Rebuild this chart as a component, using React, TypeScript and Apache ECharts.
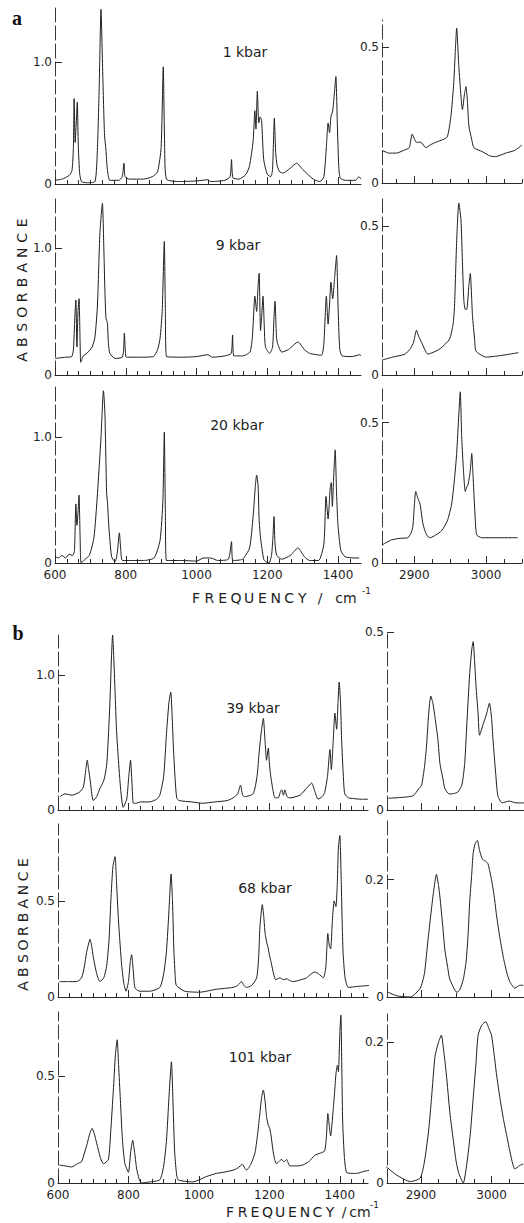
import React, { useEffect, useRef } from "react";
import * as echarts from "echarts";

// ---------- data (frequency cm^-1, absorbance) ----------
const kbar1Low: number[][] = [[600,0.03],[620,0.04],[640,0.07],[648,0.11],[652,0.3],[654,0.7],[657,0.34],[660,0.5],[663,0.67],[666,0.3],[670,0.08],[675,0.02],[690,0.01],[713,0.02],[720,0.3],[725,0.8],[730,1.43],[735,0.9],[740,0.4],[744,0.28],[748,0.12],[755,0.03],[780,0.03],[790,0.06],[795,0.17],[798,0.06],[810,0.04],[850,0.04],[875,0.06],[890,0.1],[900,0.3],[906,0.96],[910,0.3],[915,0.04],[950,0.02],[1000,0.025],[1032,0.035],[1040,0.02],[1080,0.03],[1095,0.06],[1099,0.2],[1103,0.05],[1120,0.04],[1140,0.08],[1150,0.15],[1160,0.35],[1165,0.6],[1168,0.45],[1172,0.76],[1176,0.5],[1180,0.55],[1184,0.52],[1190,0.2],[1200,0.08],[1210,0.06],[1215,0.12],[1220,0.54],[1224,0.25],[1228,0.15],[1235,0.1],[1245,0.09],[1265,0.13],[1283,0.17],[1300,0.12],[1330,0.04],[1349,0.02],[1360,0.06],[1367,0.3],[1372,0.5],[1376,0.42],[1380,0.55],[1385,0.6],[1390,0.75],[1394,0.88],[1398,0.5],[1402,0.15],[1406,0.05],[1420,0.03],[1450,0.03],[1459,0.06],[1465,0.04]];
const kbar1High: number[][] = [[2855,0.12],[2865,0.11],[2875,0.11],[2885,0.12],[2893,0.13],[2897,0.18],[2903,0.15],[2909,0.15],[2916,0.13],[2922,0.14],[2930,0.15],[2940,0.16],[2946,0.17],[2951,0.245],[2955,0.37],[2957,0.48],[2959,0.57],[2962,0.43],[2965,0.32],[2967,0.27],[2970,0.33],[2972,0.355],[2974,0.3],[2976,0.21],[2980,0.16],[2983,0.13],[2995,0.115],[3005,0.1],[3013,0.097],[3027,0.11],[3040,0.12],[3050,0.14]];
const kbar9Low: number[][] = [[600,0.13],[630,0.14],[647,0.144],[652,0.2],[656,0.45],[659,0.59],[662,0.22],[665,0.5],[668,0.6],[671,0.25],[673,0.1],[680,0.15],[690,0.17],[705,0.22],[713,0.3],[720,0.55],[727,1.12],[734,1.35],[738,1.0],[741,0.67],[744,0.45],[748,0.41],[751,0.25],[755,0.17],[770,0.13],[790,0.14],[794,0.2],[796,0.33],[799,0.18],[802,0.14],[840,0.14],[878,0.145],[890,0.2],[897,0.29],[903,0.5],[909,1.05],[912,0.5],[915,0.145],[960,0.14],[1000,0.145],[1032,0.16],[1045,0.14],[1080,0.15],[1098,0.17],[1102,0.315],[1106,0.15],[1130,0.15],[1151,0.18],[1158,0.3],[1165,0.62],[1170,0.5],[1174,0.7],[1177,0.8],[1181,0.35],[1184,0.45],[1188,0.62],[1192,0.35],[1195,0.22],[1207,0.17],[1215,0.22],[1219,0.45],[1222,0.58],[1226,0.3],[1229,0.25],[1241,0.18],[1260,0.2],[1287,0.26],[1305,0.2],[1320,0.17],[1353,0.155],[1360,0.25],[1367,0.62],[1372,0.4],[1376,0.55],[1380,0.73],[1385,0.6],[1390,0.75],[1396,0.94],[1400,0.55],[1405,0.2],[1412,0.15],[1440,0.145],[1462,0.16],[1465,0.15]];
const kbar9High: number[][] = [[2855,0.05],[2870,0.06],[2887,0.07],[2895,0.09],[2899,0.11],[2903,0.15],[2906,0.13],[2910,0.11],[2919,0.07],[2930,0.08],[2937,0.09],[2949,0.12],[2954,0.17],[2956,0.23],[2959,0.45],[2962,0.576],[2965,0.52],[2967,0.38],[2969,0.25],[2971,0.22],[2973,0.22],[2976,0.3],[2978,0.34],[2981,0.2],[2984,0.12],[2986,0.08],[3000,0.06],[3020,0.065],[3033,0.07],[3045,0.075]];
const kbar20Low: number[][] = [[600,0.05],[610,0.04],[620,0.06],[630,0.04],[640,0.07],[650,0.06],[655,0.1],[659,0.47],[662,0.3],[665,0.4],[668,0.54],[671,0.2],[674,0.0],[685,0.03],[697,0.06],[710,0.2],[720,0.55],[730,1.0],[737,1.37],[741,1.2],[744,0.8],[746,0.55],[748,0.5],[752,0.3],[760,0.05],[770,0.01],[776,0.08],[782,0.24],[786,0.1],[791,0.02],[850,0.02],[880,0.04],[897,0.18],[905,0.5],[909,1.04],[912,0.4],[915,0.02],[960,0.02],[1000,0.015],[1020,0.04],[1040,0.04],[1060,0.02],[1090,0.03],[1099,0.17],[1103,0.02],[1130,0.03],[1150,0.12],[1160,0.37],[1166,0.6],[1170,0.7],[1174,0.62],[1177,0.35],[1181,0.2],[1190,0.03],[1196,0.01],[1205,0.0],[1212,0.06],[1216,0.2],[1219,0.37],[1222,0.15],[1227,0.06],[1241,0.03],[1265,0.06],[1287,0.12],[1305,0.05],[1320,0.02],[1345,0.02],[1360,0.15],[1366,0.53],[1372,0.35],[1378,0.6],[1381,0.64],[1384,0.45],[1388,0.7],[1392,0.9],[1396,0.55],[1400,0.3],[1408,0.1],[1420,0.05],[1445,0.04],[1460,0.04]];
const kbar20High: number[][] = [[2855,0.064],[2868,0.082],[2880,0.088],[2891,0.09],[2896,0.11],[2898,0.13],[2902,0.255],[2905,0.23],[2908,0.21],[2912,0.14],[2917,0.1],[2922,0.09],[2930,0.1],[2938,0.115],[2946,0.15],[2952,0.21],[2956,0.3],[2959,0.39],[2962,0.53],[2964,0.61],[2966,0.45],[2968,0.35],[2971,0.255],[2973,0.27],[2975,0.28],[2978,0.33],[2980,0.39],[2982,0.3],[2985,0.15],[2987,0.1],[2994,0.09],[3012,0.09],[3030,0.09],[3044,0.09]];
const kbar39Low: number[][] = [[606,0.1],[620,0.12],[640,0.11],[662,0.135],[672,0.17],[678,0.28],[683,0.37],[687,0.3],[691,0.23],[700,0.07],[710,0.1],[719,0.16],[730,0.22],[738,0.33],[744,0.6],[748,0.84],[752,1.15],[755,1.3],[758,1.15],[762,0.88],[766,0.6],[771,0.39],[778,0.15],[785,0.02],[795,0.08],[801,0.25],[806,0.37],[810,0.2],[814,0.05],[822,0.05],[833,0.06],[860,0.06],[880,0.08],[889,0.11],[900,0.25],[908,0.57],[915,0.8],[920,0.876],[924,0.7],[927,0.5],[932,0.25],[937,0.09],[944,0.07],[980,0.06],[1010,0.05],[1045,0.06],[1080,0.07],[1097,0.09],[1110,0.12],[1118,0.185],[1124,0.11],[1130,0.1],[1154,0.12],[1165,0.25],[1171,0.43],[1178,0.6],[1183,0.68],[1188,0.5],[1192,0.37],[1197,0.46],[1200,0.35],[1203,0.27],[1210,0.15],[1216,0.09],[1225,0.09],[1232,0.14],[1235,0.15],[1240,0.11],[1244,0.15],[1250,0.1],[1258,0.09],[1287,0.11],[1305,0.16],[1320,0.2],[1330,0.13],[1338,0.08],[1350,0.1],[1357,0.13],[1365,0.25],[1372,0.45],[1376,0.3],[1381,0.5],[1386,0.72],[1391,0.6],[1395,0.8],[1398,0.95],[1402,0.8],[1405,0.53],[1410,0.25],[1414,0.12],[1425,0.09],[1438,0.085],[1460,0.08],[1480,0.08]];
const kbar39High: number[][] = [[2854,0.033],[2870,0.035],[2889,0.04],[2897,0.06],[2901,0.07],[2905,0.12],[2908,0.18],[2911,0.27],[2914,0.32],[2917,0.3],[2920,0.26],[2924,0.2],[2927,0.13],[2931,0.09],[2934,0.06],[2940,0.045],[2946,0.046],[2952,0.05],[2958,0.07],[2962,0.13],[2965,0.24],[2969,0.38],[2972,0.45],[2974,0.473],[2976,0.42],[2978,0.35],[2981,0.27],[2983,0.21],[2988,0.24],[2993,0.27],[2997,0.3],[3000,0.26],[3002,0.2],[3006,0.1],[3009,0.04],[3015,0.02],[3025,0.025],[3035,0.02],[3046,0.02]];
const kbar68Low: number[][] = [[604,0.08],[630,0.08],[653,0.08],[667,0.1],[675,0.16],[681,0.23],[691,0.3],[696,0.26],[700,0.21],[710,0.12],[719,0.08],[730,0.1],[738,0.16],[745,0.3],[750,0.5],[756,0.68],[762,0.73],[766,0.6],[771,0.42],[776,0.28],[781,0.16],[787,0.07],[793,0.03],[800,0.08],[805,0.18],[809,0.22],[813,0.15],[818,0.05],[825,0.035],[833,0.03],[860,0.03],[889,0.05],[900,0.12],[908,0.24],[915,0.45],[921,0.64],[925,0.5],[929,0.24],[933,0.1],[936,0.06],[960,0.03],[1002,0.025],[1049,0.04],[1097,0.05],[1110,0.06],[1121,0.08],[1128,0.06],[1135,0.05],[1150,0.06],[1164,0.1],[1170,0.22],[1173,0.36],[1180,0.48],[1184,0.42],[1188,0.33],[1193,0.28],[1196,0.26],[1200,0.22],[1205,0.18],[1212,0.12],[1218,0.09],[1224,0.095],[1230,0.1],[1240,0.09],[1249,0.095],[1258,0.085],[1268,0.08],[1290,0.09],[1306,0.1],[1318,0.12],[1329,0.13],[1340,0.12],[1353,0.1],[1360,0.15],[1366,0.33],[1370,0.27],[1374,0.25],[1379,0.4],[1384,0.5],[1389,0.47],[1393,0.6],[1396,0.78],[1400,0.84],[1404,0.6],[1409,0.24],[1415,0.1],[1424,0.05],[1450,0.055],[1485,0.06]];
const kbar68High: number[][] = [[2852,0.009],[2866,0.002],[2885,0.0],[2899,0.015],[2905,0.04],[2910,0.097],[2914,0.14],[2918,0.18],[2922,0.209],[2925,0.19],[2927,0.17],[2931,0.12],[2934,0.08],[2938,0.05],[2941,0.03],[2951,0.008],[2955,0.012],[2960,0.03],[2964,0.06],[2967,0.11],[2969,0.16],[2972,0.21],[2974,0.245],[2977,0.262],[2980,0.267],[2983,0.25],[2987,0.235],[2991,0.232],[2995,0.227],[3000,0.2],[3004,0.17],[3007,0.14],[3012,0.1],[3017,0.066],[3022,0.04],[3026,0.026],[3033,0.015],[3040,0.02],[3045,0.02]];
const kbar101Low: number[][] = [[604,0.084],[620,0.08],[639,0.075],[655,0.09],[667,0.1],[675,0.14],[683,0.185],[690,0.23],[697,0.255],[703,0.23],[710,0.185],[720,0.12],[729,0.09],[743,0.11],[750,0.25],[757,0.43],[763,0.6],[768,0.67],[772,0.55],[777,0.39],[783,0.2],[790,0.09],[800,0.05],[806,0.14],[812,0.2],[817,0.15],[823,0.07],[830,0.02],[837,0.0],[860,0.005],[889,0.015],[900,0.08],[908,0.2],[915,0.4],[922,0.567],[926,0.4],[931,0.15],[936,0.05],[941,0.015],[983,0.005],[1021,0.03],[1050,0.045],[1069,0.05],[1097,0.06],[1110,0.07],[1124,0.087],[1130,0.07],[1135,0.06],[1148,0.09],[1159,0.14],[1166,0.22],[1172,0.31],[1178,0.4],[1183,0.435],[1188,0.38],[1192,0.31],[1197,0.27],[1201,0.255],[1205,0.22],[1210,0.155],[1215,0.11],[1220,0.09],[1227,0.1],[1234,0.11],[1242,0.1],[1249,0.11],[1258,0.08],[1280,0.08],[1296,0.085],[1312,0.1],[1329,0.13],[1345,0.14],[1357,0.15],[1362,0.22],[1366,0.325],[1370,0.27],[1374,0.22],[1378,0.28],[1381,0.34],[1385,0.42],[1389,0.51],[1393,0.55],[1396,0.52],[1400,0.7],[1403,0.785],[1406,0.5],[1408,0.29],[1413,0.12],[1419,0.05],[1435,0.045],[1448,0.045],[1470,0.055],[1485,0.06]];
const kbar101High: number[][] = [[2851,0.023],[2866,0.011],[2885,0.002],[2899,0.007],[2905,0.03],[2911,0.075],[2915,0.12],[2920,0.18],[2925,0.2],[2929,0.21],[2932,0.19],[2936,0.155],[2941,0.1],[2946,0.06],[2950,0.03],[2954,0.013],[2960,0.0],[2965,0.027],[2970,0.07],[2974,0.12],[2978,0.17],[2981,0.21],[2986,0.224],[2992,0.229],[2996,0.22],[3000,0.21],[3004,0.18],[3007,0.155],[3012,0.12],[3017,0.09],[3022,0.065],[3026,0.045],[3033,0.02],[3040,0.025],[3045,0.027]];

const pressureLabels = ["1 kbar", "9 kbar", "20 kbar", "39 kbar", "68 kbar", "101 kbar"];
const lowTickValues = [1.0, 1.0, 1.0, 1.0, 0.5, 0.5];
const lowTickLabels = ["1.0", "1.0", "1.0", "1.0", "0.5", "0.5"];
const highTickValues = [0.5, 0.5, 0.5, 0.5, 0.2, 0.2];
const highTickLabels = ["0.5", "0.5", "0.5", "0.5", "0.2", "0.2"];
const lowMax = [1.45, 1.4, 1.4, 1.3, 0.9, 0.8];
const highMax = [0.6, 0.6, 0.62, 0.5, 0.3, 0.24];
const lowXLabels = [600, 800, 1000, 1200, 1400];
const highXLabels = [2900, 3000];

// ---------- layout ----------
const lowSpectra = [kbar1Low, kbar9Low, kbar20Low, kbar39Low, kbar68Low, kbar101Low];
const highSpectra = [kbar1High, kbar9High, kbar20High, kbar39High, kbar68High, kbar101High];
const lowGrid = [
  { top: 7, height: 177 }, { top: 197, height: 178 }, { top: 387, height: 176 },
  { top: 635, height: 175 }, { top: 824, height: 173 }, { top: 1012, height: 171 },
];
const highGrid = [
  { top: 20, height: 163 }, { top: 196, height: 179 }, { top: 389, height: 174 },
  { top: 632, height: 178 }, { top: 821, height: 176 }, { top: 1014, height: 169 },
];
const xLayout = {
  a: { L: { left: 55, width: 306, min: 600, max: 1465 }, R: { left: 382, width: 140, min: 2855, max: 3050 } },
  b: { L: { left: 58, width: 310, min: 600, max: 1480 }, R: { left: 387, width: 137, min: 2852, max: 3046 } },
};
const labelPos = [
  [245, 52], [238, 245], [237, 425], [253, 708], [265, 888], [260, 1057],
];

const INK = "#1e1e1e";
const FONT = "DejaVu Sans";

function minorTicksLow(min: number, max: number) {
  const out: number[] = [];
  for (let k = 0; ; k++) {
    const v = 600 + (k * 200) / 6;
    if (v > max) break;
    if (v >= min && k % 6 !== 0) out.push(v);
  }
  return out;
}
function minorTicksHigh(min: number, max: number) {
  const out: number[] = [];
  for (let v = 2850; v <= max; v += 25) {
    if (v >= min && v % 100 !== 0) out.push(v);
  }
  return out;
}

function spaced(chars: string, x0: number, y: number, pitch: number, size: number) {
  return chars.split("").map((ch, i) => ({
    type: "text",
    x: x0 + i * pitch,
    y,
    style: { text: ch, fill: INK, font: `${size}px "${FONT}"`, align: "center", verticalAlign: "middle" },
  }));
}

function buildOption() {
  const grid: any[] = [];
  const xAxis: any[] = [];
  const yAxis: any[] = [];
  const series: any[] = [];

  for (let r = 0; r < 6; r++) {
    const part = r < 3 ? xLayout.a : xLayout.b;
    const showX = r === 2 || r === 5;
    for (let side = 0; side < 2; side++) {
      const isLow = side === 0;
      const xl = isLow ? part.L : part.R;
      const gl = isLow ? lowGrid[r] : highGrid[r];
      const g = grid.length;
      grid.push({ left: xl.left, width: xl.width, top: gl.top, height: gl.height, containLabel: false });
      const majors = isLow ? lowXLabels : highXLabels;
      const minors = isLow ? minorTicksLow(xl.min, xl.max) : minorTicksHigh(xl.min, xl.max);
      const xi = xAxis.length;
      xAxis.push({
        gridIndex: g, type: "value", position: "bottom", min: xl.min, max: xl.max,
        axisLine: { show: true, onZero: false, lineStyle: { color: "#2a2a2a", width: 1 } },
        axisTick: { show: true, inside: true, length: 7, customValues: majors, lineStyle: { color: "#2a2a2a" } },
        axisLabel: {
          show: showX, customValues: majors, margin: 6, color: INK, fontSize: 12, fontFamily: FONT,
          formatter: (v: number) => String(Math.round(v)),
        },
        splitLine: { show: false },
      });
      xAxis.push({
        gridIndex: g, type: "value", position: "bottom", min: xl.min, max: xl.max,
        axisLine: { show: false },
        axisTick: { show: true, inside: true, length: 4, customValues: minors, lineStyle: { color: "#2a2a2a" } },
        axisLabel: { show: false },
        splitLine: { show: false },
      });
      const tv = isLow ? lowTickValues[r] : highTickValues[r];
      const tl = isLow ? lowTickLabels[r] : highTickLabels[r];
      const yi = yAxis.length;
      yAxis.push({
        gridIndex: g, type: "value", min: 0, max: isLow ? lowMax[r] : highMax[r],
        axisLine: { show: true, onZero: false, lineStyle: { color: "#3a3a3a", width: 1, type: [14, 4] } },
        axisTick: { show: true, inside: true, length: 7, customValues: [tv], lineStyle: { color: "#2a2a2a" } },
        axisLabel: {
          show: true, customValues: [0, tv], margin: 3, color: INK, fontSize: 12, fontFamily: FONT,
          formatter: (v: number) => (v === 0 ? "0" : tl),
        },
        splitLine: { show: false },
      });
      series.push({
        type: "line", xAxisIndex: xi, yAxisIndex: yi,
        data: isLow ? lowSpectra[r] : highSpectra[r],
        showSymbol: false, symbol: "none", smooth: 0.2, clip: false,
        lineStyle: { color: INK, width: 1 },
      });
    }
  }

  const graphic: any[] = [];
  graphic.push({ type: "text", x: 17, y: 18, style: { text: "a", fill: "#111", font: 'bold 20px "Liberation Serif"', align: "center", verticalAlign: "middle" } });
  graphic.push({ type: "text", x: 18, y: 633, style: { text: "b", fill: "#111", font: 'bold 20px "Liberation Serif"', align: "center", verticalAlign: "middle" } });
  pressureLabels.forEach((t, i) => {
    graphic.push({ type: "text", x: labelPos[i][0], y: labelPos[i][1], style: { text: t, fill: INK, font: `14px "${FONT}"`, align: "center", verticalAlign: "middle" } });
  });
  graphic.push({ type: "group", x: 22, y: 357, rotation: Math.PI / 2, children: spaced("ABSORBANCE", 0, 0, 14.9, 14) });
  graphic.push({ type: "group", x: 23, y: 986, rotation: Math.PI / 2, children: spaced("ABSORBANCE", 0, 0, 13.7, 14) });
  const freq = (x0: number, y: number, pitch: number, slashX: number, cmX: number, supX: number) => {
    graphic.push(...spaced("FREQUENCY", x0, y, pitch, 14));
    graphic.push({ type: "text", x: slashX, y, style: { text: "/", fill: INK, font: `14px "${FONT}"`, align: "center", verticalAlign: "middle" } });
    graphic.push({ type: "text", x: cmX, y, style: { text: "cm", fill: INK, font: `14px "${FONT}"`, align: "center", verticalAlign: "middle" } });
    graphic.push({ type: "text", x: supX, y: y - 7, style: { text: "-1", fill: INK, font: `9px "${FONT}"`, align: "left", verticalAlign: "middle" } });
  };
  freq(196, 598, 13.3, 320, 346, 362);
  freq(230, 1212, 12.5, 344, 360, 370);

  return { animation: false, backgroundColor: "#ffffff", grid, xAxis, yAxis, series, graphic };
}

export default function App() {
  const ref = useRef<HTMLDivElement>(null);
  useEffect(() => {
    if (!ref.current) return;
    const chart = echarts.init(ref.current, undefined, { renderer: "svg" });
    chart.setOption(buildOption() as any);
    return () => chart.dispose();
  }, []);
  return (
    <div
      ref={ref}
      style={{ position: "absolute", left: 0, top: 0, width: 524, height: 1223, background: "#fff" }}
    />
  );
}
